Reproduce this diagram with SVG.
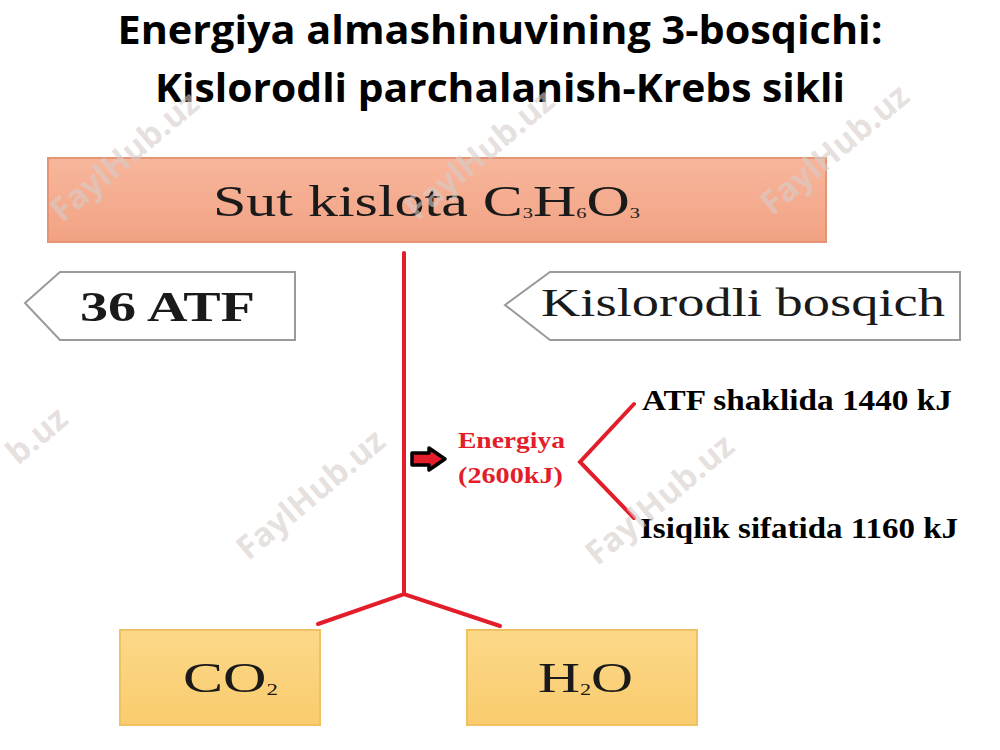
<svg xmlns="http://www.w3.org/2000/svg" width="1000" height="750" viewBox="0 0 1000 750">
<style>
.title{font-family:"Open Sans","Noto Sans",sans-serif;font-weight:bold;font-size:40px;fill:#000;text-anchor:middle}
.serif{font-family:"Liberation Serif","DejaVu Serif",serif;fill:#1a1a1a}
.wm{font-family:"Open Sans","Liberation Sans",sans-serif;font-weight:bold;font-size:33px;fill:#d6cdca;fill-opacity:0.6}
.red{stroke:#e31e2a;stroke-width:4;fill:none;stroke-linecap:round}
.sign{fill:#fff;stroke:#9a9a9a;stroke-width:2}
</style>
<defs>
<linearGradient id="salmon" x1="0" y1="0" x2="0" y2="1"><stop offset="0" stop-color="#f7b69c"/><stop offset="1" stop-color="#f2a283"/></linearGradient>
<linearGradient id="gold" x1="0" y1="0" x2="0" y2="1"><stop offset="0" stop-color="#fcd888"/><stop offset="1" stop-color="#f9cc6e"/></linearGradient>
</defs>
<rect width="1000" height="750" fill="#fff"/>
<text class="title" x="500" y="44" textLength="765" lengthAdjust="spacingAndGlyphs">Energiya almashinuvining 3-bosqichi:</text>
<text class="title" x="500" y="102" textLength="690" lengthAdjust="spacingAndGlyphs">Kislorodli parchalanish-Krebs sikli</text>

<g id="sut">
<rect x="48" y="158" width="778" height="84" fill="url(#salmon)" stroke="#e59573" stroke-width="2"/>
<text class="serif" x="213" y="216" font-size="44" textLength="427" lengthAdjust="spacingAndGlyphs">Sut kislota C<tspan font-size="15" dy="2">3</tspan><tspan dy="-2">H</tspan><tspan font-size="15" dy="2">6</tspan><tspan dy="-2">O</tspan><tspan font-size="15" dy="2">3</tspan></text>
</g>

<g id="atf36">
<polygon class="sign" points="25,303 60,272 295,272 295,340 60,340"/>
<text class="serif" x="80" y="321" font-size="43" font-weight="bold" textLength="175" lengthAdjust="spacingAndGlyphs">36 ATF</text>
</g>

<g id="kislorodli">
<polygon class="sign" points="505,305 550,272 960,272 960,340 550,340"/>
<text class="serif" x="541" y="316" font-size="41" textLength="404" lengthAdjust="spacingAndGlyphs">Kislorodli bosqich</text>
</g>

<g id="connectors">
<line class="red" x1="404" y1="253" x2="404" y2="594"/>
<polyline class="red" points="318,624 404,594 500,626"/>
<polyline class="red" points="634,404 580,462 634,518"/>
<polygon points="412,453 429,453 429,448 445,459 429,470 429,465 412,465" fill="#e31e2a" stroke="#000" stroke-width="3.5" stroke-linejoin="round"/>
</g>

<g id="energiya">
<text class="serif" x="458" y="448" font-size="23" font-weight="bold" textLength="107" lengthAdjust="spacingAndGlyphs" style="fill:#e31e2a">Energiya</text>
<text class="serif" x="458" y="483" font-size="23" font-weight="bold" textLength="105" lengthAdjust="spacingAndGlyphs" style="fill:#e31e2a">(2600kJ)</text>
</g>

<g id="atf1440">
<text class="serif" x="642" y="410" font-size="29" font-weight="bold" textLength="310" lengthAdjust="spacingAndGlyphs" style="fill:#000">ATF shaklida 1440 kJ</text>
</g>
<g id="isiqlik">
<text class="serif" x="640" y="538" font-size="29" font-weight="bold" textLength="318" lengthAdjust="spacingAndGlyphs" style="fill:#000">Isiqlik sifatida 1160 kJ</text>
</g>

<g id="co2">
<rect x="120" y="630" width="200" height="95" fill="url(#gold)" stroke="#f0c160" stroke-width="2"/>
<text class="serif" x="183" y="692" font-size="42" textLength="95" lengthAdjust="spacingAndGlyphs">CO<tspan font-size="16" dy="3">2</tspan></text>
</g>
<g id="h2o">
<rect x="467" y="630" width="230" height="95" fill="url(#gold)" stroke="#f0c160" stroke-width="2"/>
<text class="serif" x="538" y="692" font-size="42" textLength="95" lengthAdjust="spacingAndGlyphs">H<tspan font-size="16" dy="3">2</tspan><tspan dy="-3">O</tspan></text>
</g>

<g id="watermarks">
<text class="wm" x="132" y="165" text-anchor="middle" transform="rotate(-40 132 165)">FaylHub.uz</text>
<text class="wm" x="487" y="163" text-anchor="middle" transform="rotate(-40 487 163)">FaylHub.uz</text>
<text class="wm" x="842" y="158" text-anchor="middle" transform="rotate(-40 842 158)">FaylHub.uz</text>
<text class="wm" x="18" y="466" transform="rotate(-40 18 466)">b.uz</text>
<text class="wm" x="318" y="503" text-anchor="middle" transform="rotate(-40 318 503)">FaylHub.uz</text>
<text class="wm" x="667" y="508" text-anchor="middle" transform="rotate(-40 667 508)">FaylHub.uz</text>
</g>
</svg>
